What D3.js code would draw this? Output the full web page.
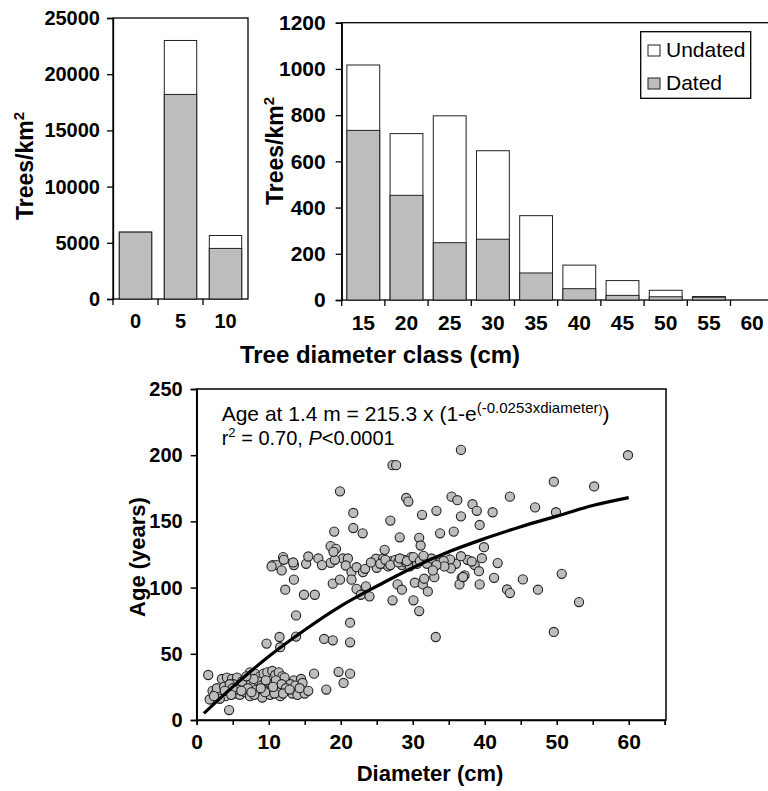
<!DOCTYPE html>
<html>
<head>
<meta charset="utf-8">
<script src="https://cdn.jsdelivr.net/npm/d3@7"></script>
<style>
  body { margin: 0; background: #fff; }
  svg { display: block; }
  text { font-family: 'Liberation Sans', Arial, Helvetica, sans-serif; fill: #000; }
</style>
</head>
<body>
<svg id="chart" width="768" height="791"></svg>
<script>
'use strict';

// small trees panel (diameter classes 0-10 cm)
var smallClasses = ['0', '5', '10'];
var smallDated = [5950, 18200, 4500];
var smallTotal = [5950, 23000, 5650];
var smallTicks = [0, 5000, 10000, 15000, 20000, 25000];

// large trees panel (diameter classes 15-60 cm)
var bigClasses = ['15', '20', '25', '30', '35', '40', '45', '50', '55', '60'];
var bigDated = [734, 453, 248, 263, 117, 49, 20, 14, 12, 0];
var bigTotal = [1017, 720, 797, 646, 365, 151, 84, 42, 15, 0];
var bigTicks = [0, 200, 400, 600, 800, 1000, 1200];

// fitted age curve
var fitDiam = [1, 5, 10, 15, 20, 25, 30, 35, 40, 45, 50, 55, 60];
var fitAge = [5, 25, 48, 68, 86, 101, 115, 127, 137, 146, 154, 162, 168];

// [diameter cm, age years]
var treePoints = [
  [1.6,34],[3.5,31],[4.2,32],[4.9,31],[5.6,32],[6.5,30],[7.4,36],[8.1,35],[8.8,33],[9.3,35],
  [9.8,36],[10.5,37],[10.9,34],[11.4,36],[11.9,33],[12.2,32],[13.5,30],[14.5,31],[16.3,35],
  [5.1,27],[6.0,26],[7.0,28],[7.7,25],[8.6,29],[9.3,27],[10.0,26],[10.7,28],[11.6,25],[13.0,27],
  [13.7,26],[14.7,28],
  [2.2,22],[2.6,20],[3.0,19],[3.5,21],[4.0,18],[4.4,22],[5.3,20],[6.0,19],[6.7,21],[7.4,18],
  [8.4,20],[9.1,17],[9.8,22],[10.2,19],[11.2,21],[11.6,18],[12.6,22],[13.3,20],[14.0,19],[15.0,20],
  [18.0,23],[1.8,15.5],[3.2,16],[4.5,7.5],
  [2.8,24],[3.8,25],[4.6,27],[5.8,23],[6.3,29],[7.1,24],[7.9,31],[8.3,23],[9.0,26],[9.6,30],
  [10.4,23],[11.0,30],[11.8,27],[12.4,24],[8.0,19],[9.5,21],[10.8,20],[6.9,33],[5.0,24],[3.9,22],
  [2.4,18],[4.8,19],[6.2,22],[7.6,21],[8.9,24],[10.6,25],[12.0,20],[12.9,23],[14.3,24],[15.5,22],
  [9.7,57.7],[11.5,62.7],[11.6,55],[13.8,63],[13.8,79],[17.7,61.2],[18.9,60.2],[21.3,73.5],
  [21.3,58.7],[19.7,36.4],[21.3,35],[20.4,28],
  [10.55,117],[11.1,117],[12.0,123],[12.1,121],[11.8,113],[13.5,117],[13.5,106],[12.3,98.4],
  [15.2,118],[15.5,123.5],[16.9,122],[14.9,94.6],[16.4,94.6],[18.6,118.7],[18.9,103],[19.9,106],
  [20.3,122],[21.0,122],[20.7,116.7],[21.5,111.7],[22.2,115.4],[23.1,111.7],[23.4,114.2],[21.5,106],
  [22.2,99],[22.8,94.6],[24.0,93.4],[23.5,101],[24.9,121.8],[25.0,115],[27.2,90.4],[27.9,102.4],
  [28.5,98.4],[26.1,118],[27.1,120],[28.5,117],[25.9,122],[10.4,116],[13.4,119],[17.4,117],
  [19.2,121],[24.2,119],[26.6,116],[27.6,121],[29.0,119],[29.6,116],[30.2,121],
  [25.5,118],[26.2,121],[26.9,117],[28.0,119],[28.8,121],[29.8,123],[30.6,118],[31.8,121],
  [33.8,119],[34.6,123],[36.0,118],[37.6,121],[38.6,117],
  [19.9,172.7],[21.75,156.4],[21.75,145],[23.05,141],[19.1,142.3],[18.6,131.3],[19.35,129.3],
  [19.0,127],[27.2,192.5],[27.7,192.5],[26.9,150.6],[29.1,167.7],[29.4,165],[28.2,138],[26.1,128.5],
  [31.3,155],[33.3,158],[35.4,168.7],[36.2,166],[36.7,204],[36.7,153.8],[38.3,163],[38.9,158],
  [41.1,156.9],[43.5,168.7],[39.3,147.3],[33.8,141],[35.7,142.3],[30.9,137.6],[31.1,131.8],
  [39.9,130.5],[36.7,123.7],[39.6,122.2],[38.2,119.7],[41.8,118.5],[39.2,112.4],[35.2,121.2],
  [35.3,114.5],[34.3,120],[34.4,116],[37.2,109.2],[36.8,107.4],[36.5,102.4],[39.3,102.4],
  [41.3,107.4],[45.3,106.2],[43.1,98.6],[43.5,95.9],[30.1,90.4],[30.9,82.3],[33.2,62.7],
  [30.3,103.7],[31.4,102.4],[31.6,106.7],[32.1,97.1],[33.0,107.9],[37.0,108],
  [28.2,122],[29.2,120],[30.1,123],[31.0,120],[32.0,118],[32.6,122],[33.3,117],[31.5,124],[32.8,113],
  [47.0,160.6],[49.9,156.9],[49.6,180],[55.2,176.4],[59.9,200],[47.4,98.4],[50.7,110.4],
  [53.1,89.1],[49.6,66.5]
];

var svg = d3.select('#chart');
var GREY = '#bdbdbd';

function drawBarPanel(cfg) {
  var g = svg.append('g');
  var x = d3.scaleBand().domain(cfg.classes).range([cfg.left, cfg.right])
    .paddingInner(cfg.pad).paddingOuter(cfg.pad / 2);
  var y = d3.scaleLinear().domain([0, cfg.max]).range([cfg.bottom, cfg.top]);

  // frame
  g.append('rect').attr('x', cfg.left).attr('y', cfg.top)
    .attr('width', cfg.right - cfg.left).attr('height', cfg.bottom - cfg.top)
    .attr('fill', 'none').attr('stroke', '#000').attr('stroke-width', 1.3);

  // undated (total) then dated on top
  g.selectAll('rect.total').data(cfg.classes).enter().append('rect')
    .attr('class', 'total')
    .attr('x', function(d) { return x(d); })
    .attr('width', x.bandwidth())
    .attr('y', function(d, i) { return y(cfg.total[i]); })
    .attr('height', function(d, i) { return cfg.bottom - y(cfg.total[i]); })
    .attr('fill', '#fff').attr('stroke', '#222').attr('stroke-width', 1);
  g.selectAll('rect.dated').data(cfg.classes).enter().append('rect')
    .attr('class', 'dated')
    .attr('x', function(d) { return x(d); })
    .attr('width', x.bandwidth())
    .attr('y', function(d, i) { return y(cfg.dated[i]); })
    .attr('height', function(d, i) { return cfg.bottom - y(cfg.dated[i]); })
    .attr('fill', GREY).attr('stroke', '#222').attr('stroke-width', 1);

  // y axis
  var yAxis = g.append('g').attr('transform', 'translate(' + cfg.left + ',0)')
    .call(d3.axisLeft(y).tickValues(cfg.ticks).tickSize(6).tickPadding(cfg.yPad).tickFormat(d3.format('d')));
  yAxis.select('.domain').attr('stroke-width', 1.3);
  yAxis.selectAll('line').attr('stroke-width', 1.3);
  yAxis.selectAll('text').attr('font-size', cfg.font).attr('font-weight', 'bold');

  // x axis: labels centred on bars, tick marks on band edges
  var xAxis = g.append('g').attr('transform', 'translate(0,' + cfg.bottom + ')')
    .call(d3.axisBottom(x).tickSize(0).tickPadding(15));
  xAxis.select('.domain').remove();
  xAxis.selectAll('text').attr('font-size', cfg.font).attr('font-weight', 'bold');
  var edges = cfg.classes.map(function(c, i) { return cfg.left + i * x.step(); });
  g.selectAll('line.edge').data(edges).enter().append('line')
    .attr('x1', function(d) { return d; }).attr('x2', function(d) { return d; })
    .attr('y1', cfg.bottom).attr('y2', cfg.bottom + 6)
    .attr('stroke', '#000').attr('stroke-width', 1.3);

  // y title
  var t = g.append('text')
    .attr('transform', 'translate(' + cfg.titleX + ',' + cfg.titleY + ') rotate(-90)')
    .attr('text-anchor', 'middle').attr('font-size', 23).attr('font-weight', 'bold');
  t.append('tspan').text('Trees/km');
  t.append('tspan').attr('font-size', 15).attr('dy', -9).text('2');
  return g;
}

drawBarPanel({
  classes: smallClasses, dated: smallDated, total: smallTotal, ticks: smallTicks, max: 25000,
  left: 113, right: 248, top: 18, bottom: 299, pad: 0.28, font: 20, yPad: 7,
  titleX: 33, titleY: 166
});

drawBarPanel({
  classes: bigClasses, dated: bigDated, total: bigTotal, ticks: bigTicks, max: 1200,
  left: 341.7, right: 773.7, top: 22.7, bottom: 300, pad: 0.24, font: 21, yPad: 10,
  titleX: 283, titleY: 151
});

svg.append('text').attr('x', 380).attr('y', 363).attr('text-anchor', 'middle')
  .attr('font-size', 24).attr('font-weight', 'bold').text('Tree diameter class (cm)');

// legend
var legendItems = [{ label: 'Undated', fill: '#fff' }, { label: 'Dated', fill: GREY }];
var legend = svg.append('g');
legend.append('rect').attr('x', 640.7).attr('y', 31.7).attr('width', 110).attr('height', 66.6)
  .attr('fill', '#fff').attr('stroke', '#000').attr('stroke-width', 1.3);
var li = legend.selectAll('g.item').data(legendItems).enter().append('g')
  .attr('transform', function(d, i) { return 'translate(648,' + (45 + i * 33) + ')'; });
li.append('rect').attr('width', 12).attr('height', 11)
  .attr('fill', function(d) { return d.fill; }).attr('stroke', '#222').attr('stroke-width', 1);
li.append('text').attr('x', 18).attr('y', 12).attr('font-size', 21).text(function(d) { return d.label; });

// scatter: age vs diameter
var sc = { left: 196.7, right: 664.7, top: 389, bottom: 720 };
var x = d3.scaleLinear().domain([0, 65]).range([sc.left, sc.right]);
var y = d3.scaleLinear().domain([0, 250]).range([sc.bottom, sc.top]);
var gs = svg.append('g');

gs.append('rect').attr('x', sc.left).attr('y', sc.top)
  .attr('width', sc.right - sc.left + 1.3).attr('height', sc.bottom - sc.top)
  .attr('fill', 'none').attr('stroke', '#000').attr('stroke-width', 1.5);

var yAx = gs.append('g').attr('transform', 'translate(' + sc.left + ',0)')
  .call(d3.axisLeft(y).tickValues([0, 50, 100, 150, 200, 250]).tickSize(6).tickPadding(8));
yAx.selectAll('line').attr('stroke-width', 1.5);
yAx.select('.domain').attr('stroke-width', 1.5);
yAx.selectAll('text').attr('font-size', 20).attr('font-weight', 'bold');

var xAx = gs.append('g').attr('transform', 'translate(0,' + sc.bottom + ')')
  .call(d3.axisBottom(x).tickValues(d3.range(0, 66, 5)).tickSize(5).tickPadding(9)
    .tickFormat(function(d) { return d % 10 === 0 ? d : ''; }));
xAx.selectAll('line').attr('stroke-width', 1.5);
xAx.select('.domain').attr('stroke-width', 1.5);
xAx.selectAll('text').attr('font-size', 21).attr('font-weight', 'bold');

gs.selectAll('circle').data(treePoints).enter().append('circle')
  .attr('cx', function(d) { return x(d[0]); })
  .attr('cy', function(d) { return y(d[1]); })
  .attr('r', 4.6)
  .attr('fill', GREY).attr('stroke', '#222').attr('stroke-width', 1.1);

var line = d3.line()
  .x(function(d, i) { return x(fitDiam[i]); })
  .y(function(d) { return y(d); })
  .curve(d3.curveMonotoneX);
gs.append('path').attr('d', line(fitAge))
  .attr('fill', 'none').attr('stroke', '#000').attr('stroke-width', 3.2);

var eq = gs.append('text').attr('x', 221.7).attr('y', 421).attr('font-size', 21);
eq.append('tspan').text('Age at 1.4 m = 215.3 x (1-e');
eq.append('tspan').attr('font-size', 15).attr('dy', -8).text('(-0.0253xdiameter');
eq.append('tspan').attr('font-size', 12).text(')');
eq.append('tspan').attr('dy', 8).text(')');

var r2 = gs.append('text').attr('x', 221.7).attr('y', 445).attr('font-size', 20);
r2.append('tspan').text('r');
r2.append('tspan').attr('font-size', 13).attr('dy', -8).text('2');
r2.append('tspan').attr('dy', 8).text(' = 0.70, ');
r2.append('tspan').attr('font-style', 'italic').text('P');
r2.append('tspan').text('<0.0001');

gs.append('text').attr('x', 430).attr('y', 781).attr('text-anchor', 'middle')
  .attr('font-size', 22).attr('font-weight', 'bold').text('Diameter (cm)');
gs.append('text').attr('transform', 'translate(145,557) rotate(-90)')
  .attr('text-anchor', 'middle').attr('font-size', 22).attr('font-weight', 'bold').text('Age (years)');
</script>
</body>
</html>
